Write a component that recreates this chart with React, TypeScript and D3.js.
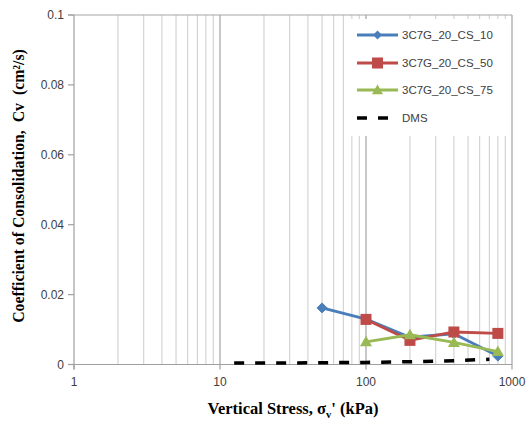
import React from "react";
import * as d3 from "d3";

const xTicks = [1, 10, 100, 1000];
const yTicks = [0, 0.02, 0.04, 0.06, 0.08, 0.1];
const yTickLabels = ["0", "0.02", "0.04", "0.06", "0.08", "0.1"];

const cs10X = [50, 100, 200, 400, 800];
const cs10Y = [0.0162, 0.013, 0.0078, 0.0088, 0.0024];
const cs50X = [100, 200, 400, 800];
const cs50Y = [0.0129, 0.0069, 0.0093, 0.0089];
const cs75X = [100, 200, 400, 800];
const cs75Y = [0.0065, 0.0085, 0.0063, 0.0037];
const dmsX = [12.5, 25, 50, 100, 200, 400, 700];
const dmsY = [0.0004, 0.0004, 0.0005, 0.0006, 0.0008, 0.0011, 0.0015];

const seriesNames = ["3C7G_20_CS_10", "3C7G_20_CS_50", "3C7G_20_CS_75", "DMS"];
const colors = ["#4A7EBB", "#BE4B48", "#98B954", "#000000"];

export default function App() {
  const W = 528, H = 421;
  const left = 74, right = 512, top = 15, bottom = 364.5;
  const x = d3.scaleLog().domain([1, 1000]).range([left, right]);
  const y = d3.scaleLinear().domain([0, 0.1]).range([bottom, top]);
  const line = d3.line<[number, number]>().x(d => x(d[0])).y(d => y(d[1]));

  const minor: number[] = [];
  for (let dec = 1; dec < 1000; dec *= 10) for (let k = 2; k <= 9; k++) minor.push(dec * k);

  const zip = (a: number[], b: number[]) => a.map((v, i) => [v, b[i]] as [number, number]);
  const s10 = zip(cs10X, cs10Y), s50 = zip(cs50X, cs50Y), s75 = zip(cs75X, cs75Y), sd = zip(dmsX, dmsY);

  const diamond = (cx: number, cy: number, r: number) => `M${cx},${cy - r}L${cx + r},${cy}L${cx},${cy + r}L${cx - r},${cy}Z`;
  const tri = (cx: number, cy: number, r: number) => `M${cx},${cy - r}L${cx + r},${cy + r * 0.75}L${cx - r},${cy + r * 0.75}Z`;

  const tickFont = "Liberation Sans, Arial, sans-serif";
  const legY = [35, 63, 90, 118];
  return (
    <svg width={W} height={H} style={{ position: "absolute", left: 0, top: 0, background: "#fff" }}>
      {minor.map(v => (
        <line key={"m" + v} x1={x(v)} x2={x(v)} y1={top} y2={bottom} stroke="#d4d4d4" strokeWidth={1.2} />
      ))}
      {[10, 100, 1000].map(v => (
        <line key={"M" + v} x1={x(v)} x2={x(v)} y1={top} y2={bottom} stroke="#b0b0b0" strokeWidth={1.4} />
      ))}
      <line x1={left - 6} x2={right} y1={top} y2={top} stroke="#a6a6a6" strokeWidth={1.2} />
      <line x1={left} x2={left} y1={top} y2={bottom + 5} stroke="#a0a0a0" strokeWidth={1.2} />
      <line x1={left - 6} x2={right} y1={bottom} y2={bottom} stroke="#a0a0a0" strokeWidth={1.2} />
      {yTicks.map((v, i) => (
        <g key={"y" + v}>
          <line x1={left - 6} x2={left} y1={y(v)} y2={y(v)} stroke="#a0a0a0" strokeWidth={1.2} />
          <text x={left - 10} y={y(v)} dy="0.35em" textAnchor="end" fontFamily={tickFont} fontSize={12} fill="#404040">{yTickLabels[i]}</text>
        </g>
      ))}
      {xTicks.map(v => (
        <g key={"x" + v}>
          <line x1={x(v)} x2={x(v)} y1={bottom} y2={bottom + 5} stroke="#a0a0a0" strokeWidth={1.2} />
          <text x={x(v)} y={bottom + 21} textAnchor="middle" fontFamily={tickFont} fontSize={12} fill="#404040">{v}</text>
        </g>
      ))}

      <path d={line(sd) || ""} fill="none" stroke="#000" strokeWidth={3.5} strokeDasharray="10,11" />
      <path d={line(s10) || ""} fill="none" stroke={colors[0]} strokeWidth={2.8} />
      {s10.map((d, i) => <path key={"a" + i} d={diamond(x(d[0]), y(d[1]), 5)} fill={colors[0]} stroke={colors[0]} />)}
      <path d={line(s50) || ""} fill="none" stroke={colors[1]} strokeWidth={2.8} />
      {s50.map((d, i) => <rect key={"b" + i} x={x(d[0]) - 5.5} y={y(d[1]) - 5.5} width={11} height={11} fill={colors[1]} />)}
      <path d={line(s75) || ""} fill="none" stroke={colors[2]} strokeWidth={2.8} />
      {s75.map((d, i) => <path key={"c" + i} d={tri(x(d[0]), y(d[1]), 6)} fill={colors[2]} />)}

      <rect x={350} y={19} width={161} height={117} fill="#fff" />
      {seriesNames.map((n, i) => {
        const ly = legY[i];
        return (
          <g key={n}>
            {i < 3 ? (
              <line x1={357} x2={398} y1={ly} y2={ly} stroke={colors[i]} strokeWidth={2.8} />
            ) : (
              <line x1={357} x2={398} y1={ly} y2={ly} stroke="#000" strokeWidth={3.5} strokeDasharray="10,11" />
            )}
            {i === 0 && <path d={diamond(377.5, ly, 4.5)} fill={colors[0]} />}
            {i === 1 && <rect x={372} y={ly - 5.5} width={11} height={11} fill={colors[1]} />}
            {i === 2 && <path d={tri(377.5, ly, 5.5)} fill={colors[2]} />}
            <text x={402} y={ly} dy="0.35em" fontFamily={tickFont} fontSize={11.5} fill="#404040">{n}</text>
          </g>
        );
      })}

      <text x={293} y={414} textAnchor="middle" fontFamily="Liberation Serif, Times New Roman, serif" fontWeight="bold" fontSize={16.5} fill="#000">
        Vertical Stress, σ<tspan fontSize={10.5} dy={4}>v</tspan><tspan dy={-4}>' (kPa)</tspan>
      </text>
      <text transform={`translate(24,186) rotate(-90)`} textAnchor="middle" fontFamily="Liberation Serif, Times New Roman, serif" fontWeight="bold" fontSize={15.8} fill="#000" style={{ whiteSpace: "pre" }}>
        {"Coefficient of Consolidation,  Cv  (cm²/s)"}
      </text>
    </svg>
  );
}
